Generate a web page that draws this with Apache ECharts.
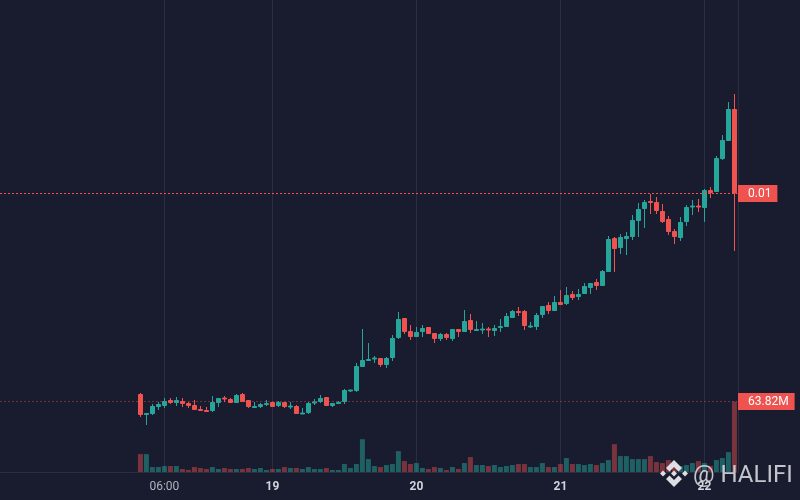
<!DOCTYPE html>
<html><head><meta charset="utf-8">
<style>html,body{margin:0;padding:0;background:#191b2e;overflow:hidden}#c{width:800px;height:500px}</style>
<script src="https://cdn.jsdelivr.net/npm/echarts@6/dist/echarts.min.js"></script></head>
<body><div id="c"></div>
<script>
const opens  = [106,85,86,93,94,100,97,99,97,95,91,90,89,97,102,101,97,106,100,92,93,95,98,94,98,93,94,86,87,97,98,103,94,96,98,109,109,133,139,141,142,135,142,162,182,169,163,168,173,167,161,166,161,171,168,180,169,170,171,169,172,173,182,189,189,173,173,185,195,189,198,196,206,203,206,212,218,214,228,262,252,261,263,279,291,299,298,289,281,269,262,278,293,294,292,310,308,341,359,391];
const closes = [85,87,94,96,99,97,100,96,94,90,89,88,98,102,101,97,105,98,93,94,96,97,93,98,93,94,86,87,97,98,102,94,97,98,110,110,134,140,141,142,135,142,162,181,168,163,168,172,166,161,166,162,171,168,179,170,171,171,170,172,174,184,189,187,174,174,185,194,189,198,195,205,202,206,214,217,214,229,261,251,263,264,280,291,298,297,289,278,268,263,278,293,294,293,310,307,342,360,391,306.5];
const lows   = [83,75,85,90,92,96,94,93,92,90,89,88,88,93,98,97,97,98,92,92,92,94,93,93,92,91,86,86,86,95,97,94,93,96,96,108,108,133,139,137,133,132,139,161,166,160,163,163,166,157,159,160,159,163,168,167,169,166,163,164,168,173,182,184,170,172,170,182,186,189,195,195,200,200,206,206,210,214,228,228,246,245,260,263,272,286,286,277,265,256,259,274,285,288,278,302,308,340,359,249];
const highs  = [107,87,96,98,102,102,103,102,98,100,94,93,104,102,104,102,106,107,100,98,97,100,98,99,98,98,95,92,98,101,105,103,97,99,111,110,137,171,157,144,142,143,165,188,182,175,173,175,173,167,167,167,171,171,190,186,179,177,173,175,181,187,190,193,190,178,187,194,198,204,210,213,209,211,217,217,221,230,264,263,266,268,285,297,300,306,303,296,284,271,283,295,300,301,311,313,344,365,398,406];
const volumes = [16.2,16.2,4.5,4.5,5.4,5.4,5.4,2.7,1.8,4.5,3.6,2.7,4.5,2.7,3.6,2.7,2.7,2.7,3.6,2.7,3.6,1.8,2.7,2.7,4.5,3.6,3.6,2.7,4.5,2.7,2.7,3.6,1.8,1.8,7.2,3.6,7.2,29.7,11.7,5.4,4.5,6.3,7.2,18.9,9.9,7.2,8.1,3.6,2.7,4.5,3.6,1.8,4.5,2.7,8.1,13.5,6.3,6.3,5.4,6.3,4.5,5.4,6.3,7.2,7.2,4.5,4.5,8.1,4.5,4.5,7.2,12.6,7.2,7.2,6.3,7.2,6.3,8.1,10.8,25.2,14.4,14.4,11.7,11.7,11.7,14.4,9,8.1,10.8,7.2,5.4,6.3,8.1,9.9,8.1,5.4,10.8,12.6,18,63.82];
const tickLabels = {'18 06:00':'06:00','19 00:00':'19','20 00:00':'20','21 00:00':'21','22 00:00':'22'};
const PAD_LEFT = 22;
const lastCloseLabel = '0.01';
const lastVolumeLabel = '63.82M';
const UP = '#26a69a', DOWN = '#ef5350', BG = '#191b2e', GRID = '#2b2d40';
const GRID_LEFT = 5.4, GRID_W = 732;
const categories = [];
for (let i = 0; i < PAD_LEFT; i++) categories.push('p' + i);
let day = 18, hour = 2;
for (let i = 0; i < closes.length; i++) {
  categories.push(day + ' ' + String(hour).padStart(2, '0') + ':00');
  hour++; if (hour === 24) { hour = 0; day++; }
}
const lastCat = categories[categories.length - 1];
const pad = new Array(PAD_LEFT).fill('-');
// the 1px candle outline adds half a pixel on each side of the body
const inset = (o, c) => {
  if (Math.abs(c - o) < 1.5) return [o, c];
  return c > o ? [o + 0.5, c - 0.5] : [o - 0.5, c + 0.5];
};
const candles = opens.map((o, i) => { const b = inset(o, closes[i]); return [b[0], b[1], lows[i], highs[i]]; });
const volBars = volumes.map((v, i) => ({ value: v, itemStyle: { color: closes[i] >= opens[i] ? 'rgba(38,166,154,0.5)' : 'rgba(239,83,80,0.45)' } }));
const isTick = (idx, val) => val in tickLabels;
const endLabel = (txt) => ({ show: true, position: 'end', distance: 0.6, formatter: txt, color: '#ffffff', backgroundColor: DOWN, fontFamily: 'Roboto, sans-serif', fontSize: 12, padding: [3, 6, 2, 10], lineHeight: 12 });
// horizontal guide running from the page edge to the plot's right edge
const guide = (v) => [[
  { xAxis: categories[0], x: 0, yAxis: v },
  { xAxis: lastCat, x: GRID_LEFT + GRID_W, yAxis: v }
]];
const WM = 'rgba(232,232,238,0.95)';
const chart = echarts.init(document.getElementById('c'), null, { renderer: 'canvas' });
chart.setOption({
  animation: false, backgroundColor: BG,
  grid: { left: GRID_LEFT, top: 0, width: GRID_W, height: 472 },
  xAxis: { type: 'category', data: categories, boundaryGap: true,
    axisLine: { show: true, lineStyle: { color: GRID, width: 1 } }, axisTick: { show: false },
    splitLine: { show: true, interval: isTick, alignWithLabel: true, lineStyle: { color: GRID, width: 1 } },
    axisLabel: { show: true, interval: isTick, margin: 9, hideOverlap: false, fontFamily: 'Roboto, sans-serif', fontSize: 12, color: '#b2b5be',
      formatter: (v) => { const t = tickLabels[v] || ''; return t.includes(':') ? t : '{d|' + t + '}'; },
      rich: { d: { fontWeight: 'bold', color: '#d1d4dc', fontSize: 12, fontFamily: 'Roboto, sans-serif' } } } },
  yAxis: [
    { type: 'value', min: 28, max: 500, position: 'right', offset: 1, scale: true, axisLine: { show: true, lineStyle: { color: GRID, width: 1 } }, axisTick: { show: false }, axisLabel: { show: false }, splitLine: { show: false } },
    { type: 'value', min: 0, max: 427.3, show: false, splitLine: { show: false } }
  ],
  series: [
    { type: 'bar', name: 'Volume', yAxisIndex: 1, barWidth: 5, z: 1, data: pad.concat(volBars),
      markLine: { silent: true, symbol: 'none', animation: false, lineStyle: { type: [2, 2], color: 'rgba(239,83,80,0.4)', width: 1 }, label: endLabel(lastVolumeLabel), data: guide(volumes[volumes.length - 1]) } },
    { type: 'candlestick', name: 'Price', yAxisIndex: 0, barWidth: 4, z: 2, data: pad.concat(candles),
      itemStyle: { color: UP, color0: DOWN, borderColor: UP, borderColor0: DOWN, borderWidth: 1 },
      markLine: { silent: true, symbol: 'none', animation: false, lineStyle: { type: [2, 2], color: DOWN, width: 1 }, label: endLabel(lastCloseLabel), data: guide(closes[closes.length - 1]) } }
  ],
  graphic: [
    { type: 'rect', left: 0, top: 472, z: 0, silent: true, shape: { width: 6, height: 1 }, style: { fill: GRID } },
    { type: 'group', left: 660, top: 460, z: 100, silent: true, children: [
      { type: 'polygon', z: 100, shape: { points: [[14,0],[22,8],[18.5,11.5],[14,7],[9.5,11.5],[6,8]] }, style: { fill: WM } },
      { type: 'polygon', z: 100, shape: { points: [[14,27],[22,19],[18.5,15.5],[14,20],[9.5,15.5],[6,19]] }, style: { fill: WM } },
      { type: 'polygon', z: 100, shape: { points: [[3,10.5],[6,13.5],[3,16.5],[0,13.5]] }, style: { fill: WM } },
      { type: 'polygon', z: 100, shape: { points: [[25,10.5],[28,13.5],[25,16.5],[22,13.5]] }, style: { fill: WM } },
      { type: 'polygon', z: 100, shape: { points: [[14,10.5],[17,13.5],[14,16.5],[11,13.5]] }, style: { fill: WM } }
    ] },
    { type: 'text', left: 693, top: 464, z: 100, silent: true, style: { text: '@ HALIFI', fill: 'rgba(215,215,222,0.9)', fontFamily: 'Roboto, sans-serif', fontWeight: 400, fontSize: 24 } }
  ]
});
</script></body></html>
